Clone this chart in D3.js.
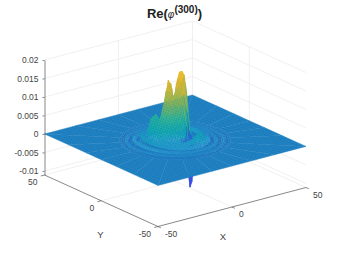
<!DOCTYPE html>
<html>
<head>
<meta charset="utf-8">
<script src="https://cdn.jsdelivr.net/npm/d3@7"></script>
<style>
  body { margin: 0; background: #fff; }
  text { font-family: "Liberation Sans", Arial, sans-serif; }
</style>
</head>
<body>
<svg id="chart" width="339" height="254"></svg>
<script>
const X_TICKS = [-50, 0, 50];
const Y_TICKS = [-50, 0, 50];
const Z_TICKS = [-0.01, -0.005, 0, 0.005, 0.01, 0.015, 0.02];

// surface, polar around the middle of the plane
const THETAS = d3.range(0, 360, 15);
const RADII = d3.range(0, 31, 1);
// one row per theta, one value per radius, in units of 1e-4
const HEIGHTS = [
  [70,85,110,120,150,160,170,140,110,55,25,-5,-10,6,16,2,-10,-3,8,2,-7,-2,6,0,-5,-1,4,0,-3,-1,0],
  [70,90,110,140,155,175,178,160,112,70,22,5,-8,8,15,3,-10,-3,8,2,-7,-2,6,0,-5,-1,4,0,-3,-1,0],
  [70,90,118,132,160,168,175,145,110,55,28,0,-6,10,15,3,-9,-3,7,2,-7,-2,5,0,-4,-1,3,0,-3,-1,0],
  [70,90,108,128,130,145,125,110,65,42,10,4,-6,12,16,5,-8,-2,7,2,-6,-2,5,0,-4,-1,3,0,-2,-1,0],
  [70,90,108,105,115,100,95,60,45,18,10,-4,4,12,20,6,-8,-2,7,2,-5,-2,5,0,-4,-1,3,0,-2,-1,0],
  [70,90,102,115,100,95,65,50,22,18,4,8,10,24,26,10,-6,-2,8,2,-6,-2,5,0,-5,-1,3,0,-3,-1,0],
  [70,95,118,122,125,95,80,45,35,18,18,14,28,36,40,18,-4,-4,8,2,-7,-2,5,0,-5,-1,3,0,-3,-1,0],
  [70,100,122,150,140,130,90,70,48,40,32,38,44,56,46,28,6,-6,10,4,-8,-3,6,0,-5,-1,4,0,-3,-1,0],
  [70,105,138,150,160,130,105,75,60,42,40,36,50,54,50,30,10,-8,14,8,-9,-3,8,2,-6,-1,4,0,-3,-1,0],
  [70,105,126,154,146,130,100,80,56,50,42,44,46,48,38,24,4,-10,18,12,-10,-4,10,4,-6,-2,5,0,-3,-1,0],
  [70,100,124,130,134,110,95,68,60,46,46,38,40,34,30,16,-4,-12,20,14,-10,-4,11,4,-7,-2,5,0,-3,-1,0],
  [70,95,106,120,110,100,78,66,52,48,38,40,32,28,22,10,-8,-12,20,14,-10,-4,11,4,-7,-2,5,0,-3,-1,0],
  [70,90,104,96,100,80,72,56,50,40,38,30,28,20,18,6,-12,-10,18,12,-12,-4,11,3,-7,-2,5,0,-3,-1,0],
  [70,85,88,92,78,72,56,50,36,34,26,26,16,14,16,4,-14,-8,16,10,-12,-4,10,3,-7,-2,5,0,-3,-1,0],
  [70,85,88,74,72,54,48,32,26,16,14,8,6,8,16,3,-14,-7,14,8,-10,-4,9,2,-7,-2,5,0,-3,-1,0],
  [70,80,76,70,52,45,26,20,6,0,-6,-6,-6,10,18,3,-14,-6,13,6,-10,-4,8,1,-6,-2,4,0,-3,-1,0],
  [70,80,78,58,52,28,22,2,-4,-16,-12,-14,-2,10,16,2,-14,-5,12,4,-9,-3,7,0,-6,-1,4,0,-3,-1,0],
  [70,80,72,64,40,32,8,2,-18,-18,-22,-8,-4,14,16,4,-11,-3,11,3,-9,-2,6,0,-5,-1,4,0,-3,-1,0],
  [70,80,80,62,52,26,14,-14,-22,-32,-20,-14,4,12,20,8,-8,-3,10,2,-8,-2,6,0,-5,-1,4,0,-3,-1,0],
  [70,85,80,74,48,34,2,-22,-45,-50,-32,-6,6,22,24,16,3,6,11,2,-8,-2,6,0,-5,-1,4,0,-3,-1,0],
  [70,85,90,74,64,30,12,-45,-95,-85,-40,-10,12,26,30,24,12,18,14,3,-8,-2,6,0,-5,-1,4,0,-3,-1,0],
  [70,85,88,90,64,46,2,-75,-125,-110,-50,-2,10,22,26,16,8,14,12,2,-8,-2,6,0,-5,-1,4,0,-3,-1,0],
  [70,85,98,94,92,60,35,-30,-80,-65,-25,-4,8,14,18,6,-5,2,9,2,-8,-2,6,0,-5,-1,4,0,-3,-1,0],
  [70,85,98,116,114,120,90,70,20,10,-4,-2,-4,8,16,2,-10,-3,8,2,-7,-2,6,0,-5,-1,4,0,-3,-1,0]
];
const HEIGHT_UNIT = 1e-4;

const COLOR_LEVELS = [-0.0125, -0.004, -0.0006, 0, 0.0006, 0.0015, 0.003, 0.006, 0.009, 0.012, 0.015, 0.018];
const COLOR_VALUES = ["#4246e6", "#2f60e6", "#1f68c4", "#2083c4", "#2a9ad0", "#18a0c6", "#12a8b4", "#2fb59a", "#72b56a", "#afb548", "#e0b530", "#f2c22c"];

const AXIS_COLOR = "#555";
const TEXT_COLOR = "#444";
const GRID_COLOR = "#ececec";

const CORNER = { x: 158, y: 226.5 };
const X_LIM = [-50, 50];
const Y_LIM = [-50, 50];
const Z_LIM = [-0.0111, 0.02];

const SCALES = {
  XX: d3.scaleLinear().domain(X_LIM).range([0, 148]),
  XY: d3.scaleLinear().domain(X_LIM).range([0, -39]),
  YX: d3.scaleLinear().domain(Y_LIM).range([0, -113.5]),
  YY: d3.scaleLinear().domain(Y_LIM).range([0, -51.5]),
  Z: d3.scaleLinear().domain(Z_LIM).range([0, -115])
};
const COLOR = d3.scaleLinear().domain(COLOR_LEVELS).range(COLOR_VALUES).clamp(true);

function project(x, y, z) {
  return [
    CORNER.x + SCALES.XX(x) + SCALES.YX(y),
    CORNER.y + SCALES.XY(x) + SCALES.YY(y) + SCALES.Z(z)
  ];
}

function drawSegment(group, from, to, color, width) {
  const start = project(...from);
  const end = project(...to);
  group.append("line")
    .attr("x1", start[0]).attr("y1", start[1])
    .attr("x2", end[0]).attr("y2", end[1])
    .attr("stroke", color)
    .attr("stroke-width", width);
}

function createGrid(chart) {
  const grid = chart.append("g");
  const [x0, x1] = X_LIM;
  const [y0, y1] = Y_LIM;
  const [z0, z1] = [Z_LIM[0], Z_TICKS[Z_TICKS.length - 1]];
  Z_TICKS.forEach(z => {
    drawSegment(grid, [x0, y1, z], [x1, y1, z], GRID_COLOR, 0.8);
    drawSegment(grid, [x1, y1, z], [x1, y0, z], GRID_COLOR, 0.8);
  });
  X_TICKS.filter(x => x > x0).forEach(x => {
    drawSegment(grid, [x, y1, z0], [x, y1, z1], GRID_COLOR, 0.8);
    drawSegment(grid, [x, y0, z0], [x, y1, z0], GRID_COLOR, 0.8);
  });
  Y_TICKS.filter(y => y > y0).forEach(y => {
    drawSegment(grid, [x1, y, z0], [x0, y, z0], GRID_COLOR, 0.8);
  });
  Y_TICKS.filter(y => y === 0).forEach(y => {
    drawSegment(grid, [x1, y, z0], [x1, y, z1], GRID_COLOR, 0.8);
  });
}

function polarPoint(thetaIndex, radiusIndex) {
  const angle = THETAS[thetaIndex % THETAS.length] * Math.PI / 180;
  const cos = Math.cos(angle);
  const sin = Math.sin(angle);
  // one step past the last radius the surface runs flat out to the edge of the box
  if (radiusIndex === RADII.length) {
    const edge = X_LIM[1] / Math.max(Math.abs(cos), Math.abs(sin));
    return [edge * cos, edge * sin, 0];
  }
  const radius = RADII[radiusIndex];
  const height = HEIGHTS[thetaIndex % THETAS.length][radiusIndex] * HEIGHT_UNIT;
  return [radius * cos, radius * sin, height];
}

function buildCells() {
  const cells = [];
  THETAS.forEach((theta, t) => {
    RADII.forEach((radius, r) => {
      const corners = [
        polarPoint(t, r),
        polarPoint(t + 1, r),
        polarPoint(t + 1, r + 1),
        polarPoint(t, r + 1)
      ];
      cells.push({
        corners,
        z: d3.mean(corners, c => c[2]),
        depth: d3.mean(corners, c => 1.135 * c[0] + 1.48 * c[1])
      });
    });
  });
  // back of the box first
  return cells.sort((a, b) => b.depth - a.depth);
}

function createSurface(chart) {
  chart.append("g")
    .selectAll("path")
    .data(buildCells())
    .enter()
    .append("path")
    .attr("d", cell => `M${cell.corners.map(c => project(...c).join(",")).join("L")}Z`)
    .attr("fill", cell => COLOR(cell.z))
    .attr("stroke", cell => COLOR(cell.z))
    .attr("stroke-width", 0.4);
}

// the dense mesh of the surface only shows as a fine grain at this size
function createMeshGrain(chart) {
  const pattern = chart.append("defs")
    .append("pattern")
    .attr("id", "mesh-grain")
    .attr("patternUnits", "userSpaceOnUse")
    .attr("width", 2.4)
    .attr("height", 2.4)
    .attr("patternTransform", "rotate(18)");
  pattern.append("rect")
    .attr("width", 1.2)
    .attr("height", 1.2)
    .attr("fill", "#0a3f70")
    .attr("opacity", 0.22);
  const [x0, x1] = X_LIM;
  const [y0, y1] = Y_LIM;
  const outline = [[x0, y0], [x1, y0], [x1, y1], [x0, y1]].map(c => project(c[0], c[1], 0).join(","));
  chart.append("path")
    .attr("d", `M${outline.join("L")}Z`)
    .attr("fill", "url(#mesh-grain)");
}

function createAxes(chart) {
  const [x0, x1] = X_LIM;
  const [y0, y1] = Y_LIM;
  const axes = chart.append("g");

  const left = project(x0, y1, Z_LIM[0]);
  const top = project(x0, y1, Z_LIM[1]);
  const zScale = d3.scaleLinear().domain(Z_LIM).range([left[1], top[1]]);
  const zAxis = axes.append("g")
    .attr("transform", `translate(${left[0]}, 0)`)
    .call(d3.axisLeft(zScale).tickValues(Z_TICKS).tickFormat(String).tickSize(2).tickSizeOuter(0).tickPadding(4));
  zAxis.selectAll("path, line").attr("stroke", AXIS_COLOR).attr("stroke-width", 0.7);
  zAxis.selectAll("text")
    .attr("fill", TEXT_COLOR)
    .style("font-size", "8.5px")
    .style("font-family", "Liberation Sans");

  drawSegment(axes, [x0, y0, Z_LIM[0]], [x1, y0, Z_LIM[0]], AXIS_COLOR, 0.7);
  drawSegment(axes, [x0, y0, Z_LIM[0]], [x0, y1, Z_LIM[0]], AXIS_COLOR, 0.7);

  X_TICKS.forEach(x => {
    drawSegment(axes, [x, y0, Z_LIM[0]], [x, y0 - 2.5, Z_LIM[0]], AXIS_COLOR, 0.7);
    const [px, py] = project(x, y0, Z_LIM[0]);
    axes.append("text").text(x)
      .attr("x", px + 7).attr("y", py + 10)
      .attr("font-size", 8.5).attr("fill", TEXT_COLOR);
  });

  Y_TICKS.forEach(y => {
    drawSegment(axes, [x0, y, Z_LIM[0]], [x0 - 2.5, y, Z_LIM[0]], AXIS_COLOR, 0.7);
    const [px, py] = project(x0, y, Z_LIM[0]);
    axes.append("text").text(y)
      .attr("x", px - 7).attr("y", py + 10)
      .attr("text-anchor", "end")
      .attr("font-size", 8.5).attr("fill", TEXT_COLOR);
  });

  axes.append("text").text("X")
    .attr("x", 223).attr("y", 239.5)
    .attr("text-anchor", "middle")
    .attr("font-size", 9.5).attr("fill", TEXT_COLOR);
  axes.append("text").text("Y")
    .attr("x", 100.5).attr("y", 237.5)
    .attr("text-anchor", "middle")
    .attr("font-size", 9.5).attr("fill", TEXT_COLOR);
}

function createTitle(chart) {
  const title = chart.append("text")
    .attr("x", 174.5).attr("y", 18)
    .attr("text-anchor", "middle")
    .attr("font-size", 13)
    .attr("font-weight", "bold")
    .attr("fill", "#222");
  title.append("tspan").text("Re(");
  title.append("tspan").text("φ")
    .attr("font-style", "italic")
    .attr("font-weight", "normal")
    .attr("font-size", 10);
  title.append("tspan").text("(300)").attr("font-size", 10).attr("dy", -5);
  title.append("tspan").text(")").attr("dy", 5);
}

function renderChart(chart) {
  createGrid(chart);
  createSurface(chart);
  createMeshGrain(chart);
  createAxes(chart);
  createTitle(chart);
}

renderChart(d3.select("#chart"));
</script>
</body>
</html>
